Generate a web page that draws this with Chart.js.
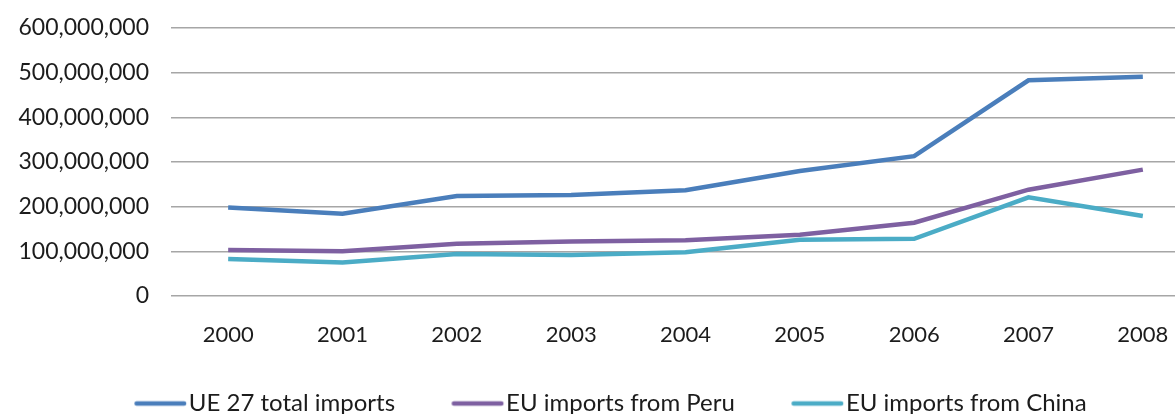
<!DOCTYPE html>
<html>
<head>
<meta charset="utf-8">
<script src="https://cdn.jsdelivr.net/npm/chart.js@4/dist/chart.umd.min.js"></script>
<style>
    body { margin: 0; background: #fff; overflow: hidden; }
    #wrap { width: 1200px; height: 414px; }
</style>
</head>
<body>
<div id="wrap"><canvas id="importsChart" width="1200" height="414"></canvas></div>
<script>
const years = ['2000', '2001', '2002', '2003', '2004', '2005', '2006', '2007', '2008'];
const totalImports = [198e6, 184e6, 224e6, 226e6, 237e6, 280e6, 313e6, 483e6, 491e6];
const peruImports = [103e6, 100e6, 117e6, 122e6, 125e6, 137e6, 164e6, 238e6, 283e6];
const chinaImports = [83e6, 75e6, 94e6, 92e6, 98e6, 126e6, 128e6, 221e6, 179e6];
const seriesNames = ['UE 27 total imports', 'EU imports from Peru', 'EU imports from China'];
const lineColors = ['#4A7EBB', '#7E60A1', '#4BACC6'];

const textColor = '#1c1c1c';

function makeSet(i, values) {
    return {
        label: seriesNames[i],
        data: values,
        borderColor: lineColors[i],
        backgroundColor: lineColors[i],
        borderWidth: 4.5,
        pointRadius: 0,
        tension: 0,
        fill: false
    };
}

// legend swatch: blank gap on the left (spacing between items),
// then a short thick line that sits right against its text
function legendLine(color) {
    const c = document.createElement('canvas');
    c.width = 88;
    c.height = 8;
    const g = c.getContext('2d');
    g.strokeStyle = color;
    g.lineWidth = 4.5;
    g.lineCap = 'round';
    g.beginPath();
    g.moveTo(35.5, 4);
    g.lineTo(83, 4);
    g.stroke();
    return c;
}

// fixed legend box height so the plot keeps its place
const legendHeight = {
    id: 'legendHeight',
    beforeInit: function(chart) {
        const origFit = chart.legend.fit;
        chart.legend.fit = function() {
            origFit.call(this);
            this.height = 58;
        };
    }
};

const ctx = document.getElementById('importsChart').getContext('2d');
const chart = new Chart(ctx, {
    type: 'line',
    data: {
        labels: years,
        datasets: [
            makeSet(0, totalImports),
            makeSet(1, peruImports),
            makeSet(2, chinaImports)
        ]
    },
    options: {
        responsive: false,
        animation: false,
        layout: { padding: { top: 28, left: 0, right: 0, bottom: 0 } },
        scales: {
            x: {
                offset: true,
                grid: { display: false, drawTicks: false },
                border: { display: false },
                ticks: { color: textColor, font: { family: 'Lato', size: 22 }, padding: 26, maxRotation: 0 },
                afterFit: function(scale) { scale.height = 60; }
            },
            y: {
                min: 0,
                max: 600000000,
                grid: { color: '#A6A6A6', lineWidth: 1.5, drawTicks: false },
                border: { display: false },
                ticks: {
                    stepSize: 100000000,
                    color: textColor,
                    font: { family: 'Lato', size: 23 },
                    padding: 22,
                    callback: function(v) { return v.toLocaleString('en-US'); }
                },
                afterFit: function(scale) {
                    scale.width = 171;
                    scale.paddingTop = 0;
                    scale.paddingBottom = 0;
                }
            }
        },
        plugins: {
            legend: {
                position: 'bottom',
                labels: {
                    usePointStyle: true,
                    pointStyleWidth: 63.5,
                    boxHeight: 10,
                    padding: 35.5,
                    color: textColor,
                    font: { family: 'Lato', size: 24 },
                    generateLabels: function(chart) {
                        const items = Chart.defaults.plugins.legend.labels.generateLabels(chart);
                        items.forEach(function(item, i) {
                            item.pointStyle = legendLine(lineColors[i]);
                        });
                        return items;
                    }
                }
            },
            tooltip: { enabled: false }
        }
    },
    plugins: [legendHeight]
});
</script>
</body>
</html>
